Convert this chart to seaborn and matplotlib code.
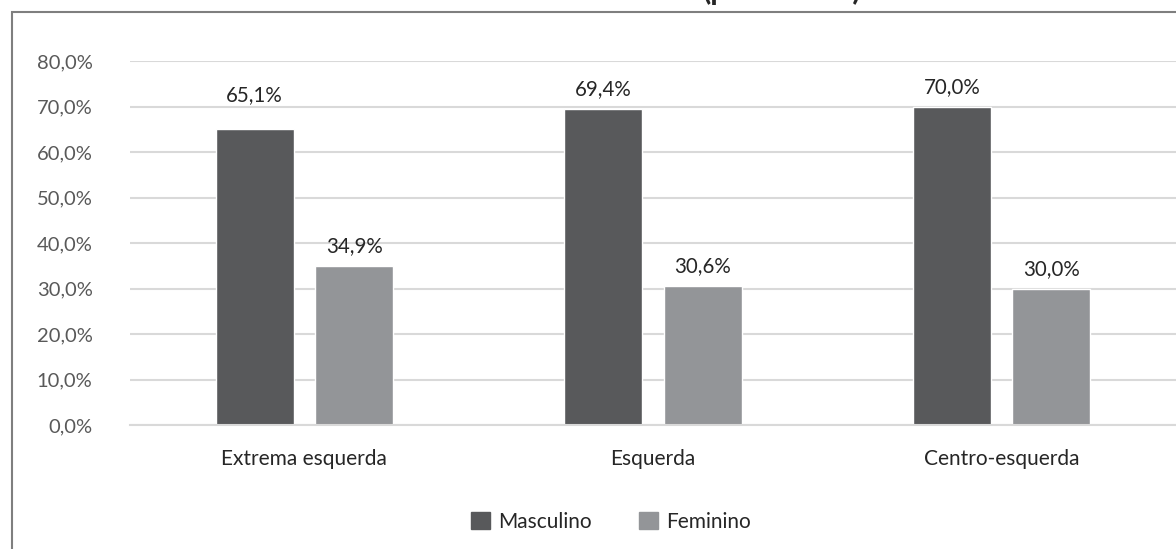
import matplotlib
matplotlib.use("Agg")
import matplotlib.pyplot as plt
import matplotlib.patches as mpatches
import seaborn as sns
import pandas as pd

# Data
categorias = ["Extrema esquerda", "Esquerda", "Centro-esquerda"]
masculino = [65.1, 69.4, 70.0]
feminino = [34.9, 30.6, 30.0]
sexos = ["Masculino", "Feminino"]
cores = ["#58595b", "#939598"]

df = pd.DataFrame({
    "categoria": categorias * 2,
    "sexo": [sexos[0]] * 3 + [sexos[1]] * 3,
    "valor": masculino + feminino,
})

sns.set_theme(style="white")
plt.rcParams["font.family"] = ["Lato", "DejaVu Sans"]

fig = plt.figure(figsize=(11.76, 5.49), dpi=100)
ax = fig.add_axes([130 / 1176, 1 - 425 / 549, 1 - 130 / 1176, (425 - 61) / 549])

sns.barplot(
    data=df, x="categoria", y="valor", hue="sexo",
    palette=cores, width=0.571, gap=0.216, ax=ax,
    legend=False, saturation=1,
)

ax.set_ylim(0, 80)
ax.set_xlim(-0.5, 2.5)
ax.set_yticks(range(0, 81, 10))
ax.set_yticklabels([f"{v},0%" for v in range(0, 81, 10)], color="#595959", fontsize=14.5)
ax.tick_params(axis="y", pad=27, length=0)
ax.tick_params(axis="x", pad=17, length=0, labelsize=15, labelcolor="#262626")
ax.set_xlabel("")
ax.set_ylabel("")
ax.grid(axis="y", color="#d9d9d9", linewidth=1.5)
ax.set_axisbelow(True)
for s in ["top", "right", "left"]:
    ax.spines[s].set_visible(False)
ax.spines["bottom"].set_color("#d9d9d9")
ax.spines["bottom"].set_linewidth(1.5)

for i, cont in enumerate(ax.containers):
    anns = ax.bar_label(cont, labels=[f"{v:.1f}%".replace(".", ",") for v in cont.datavalues],
                        padding=7, fontsize=14.8, color="#262626")
    if i == 0:
        # first label sits higher in the original
        anns[0].xyann = (0, 17)

handles = [mpatches.Patch(color=c, label=s) for c, s in zip(cores, sexos)]
fig.legend(handles=handles, loc="center", bbox_to_anchor=(611 / 1176, 1 - 522 / 549),
           ncol=2, frameon=False, fontsize=15, handlelength=0.9, handleheight=0.9,
           columnspacing=2.3, handletextpad=0.4, labelcolor="#262626")

# chart border (cut off at right and bottom)
fig.add_artist(mpatches.Rectangle((12 / 1176, -0.1), 1.2, 1 - 12 / 549 + 0.1,
                                  transform=fig.transFigure, fill=False,
                                  edgecolor="#7f7f7f", linewidth=1.5))

# title, mostly outside the picture
fig.text(862 / 1176, 1.0, "(percentual)", ha="right", va="baseline",
         fontsize=21.5, fontweight="bold", color="#262626")

fig.savefig("out.png", dpi=100)
